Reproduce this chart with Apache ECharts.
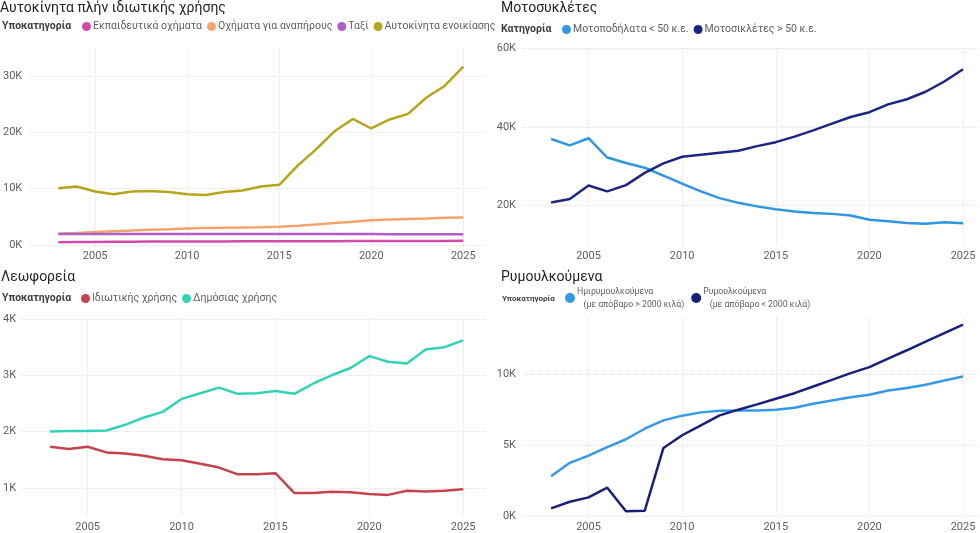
<!DOCTYPE html>
<html>
<head>
<meta charset="utf-8">
<script src="https://cdn.jsdelivr.net/npm/echarts@6/dist/echarts.min.js"></script>
<style>
  html, body { margin: 0; padding: 0; background: #fff; }
  #chart { width: 980px; height: 533px; }
</style>
</head>
<body>
<div id="chart"></div>
<script>
// years 2003..2025
var years = [2003, 2004, 2005, 2006, 2007, 2008, 2009, 2010, 2011, 2012, 2013, 2014,
  2015, 2016, 2017, 2018, 2019, 2020, 2021, 2022, 2023, 2024, 2025];

// Αυτοκίνητα πλήν ιδιωτικής χρήσης
var ekpaideftika = [500, 520, 540, 560, 580, 600, 610, 620, 630, 640, 650, 655,
  660, 665, 670, 680, 690, 700, 705, 710, 720, 730, 740];
var anapiroi = [2000, 2150, 2300, 2450, 2580, 2700, 2820, 2950, 3020, 3080, 3120, 3170,
  3250, 3400, 3650, 3900, 4150, 4380, 4520, 4630, 4720, 4820, 4900];
var taxi = [1950, 1950, 1950, 1950, 1950, 1950, 1950, 1950, 1950, 1950, 1950, 1950,
  1950, 1950, 1950, 1950, 1950, 1940, 1930, 1930, 1930, 1930, 1930];
var enoikiasis = [10100, 10400, 9500, 9000, 9500, 9600, 9400, 9000, 8900, 9400, 9700, 10400,
  10700, 14100, 17000, 20200, 22400, 20700, 22300, 23300, 26200, 28300, 31700];

// Μοτοσυκλέτες
var motopodilata = [36900, 35300, 37100, 32200, 30800, 29600, 27600, 25600, 23600, 21900, 20700, 19800,
  19100, 18500, 18100, 17900, 17500, 16400, 16000, 15600, 15400, 15800, 15500];
var motosikletes = [20800, 21700, 25100, 23600, 25200, 28300, 30700, 32400, 32900, 33400, 33900, 35100,
  36100, 37500, 39100, 40800, 42500, 43700, 45700, 47000, 48900, 51500, 54600];

// Λεωφορεία
var idiotikis = [1730, 1690, 1730, 1630, 1610, 1570, 1510, 1490, 1430, 1360, 1240, 1240,
  1260, 910, 910, 930, 920, 890, 875, 950, 935, 950, 975];
var dimosias = [2000, 2010, 2010, 2020, 2120, 2250, 2350, 2580, 2680, 2780, 2670, 2680,
  2720, 2670, 2850, 3000, 3130, 3340, 3240, 3210, 3460, 3500, 3620];

// Ρυμουλκούμενα
var imirimoulkoumena = [2800, 3740, 4250, 4840, 5400, 6140, 6730, 7060, 7290, 7410, 7430, 7430,
  7480, 7620, 7900, 8130, 8360, 8530, 8830, 9000, 9230, 9530, 9810];
var rimoulkoumena = [540, 1000, 1310, 1990, 330, 370, 4790, 5680, 6380, 7080, 7480, 7850,
  8250, 8640, 9110, 9580, 10050, 10470, 11070, 11660, 12270, 12870, 13460];

function pairs(vals) {
  return years.map(function (y, i) { return [y, vals[i]]; });
}

var font = "'Segoe UI', Roboto, 'Noto Sans', sans-serif";
var labelColor = '#605E5C';
var gridColor = '#E1E1E1';

function xAxis(idx, min, max) {
  return {
    type: 'value', gridIndex: idx, min: min, max: max, splitNumber: 5,
    axisLine: { show: false }, axisTick: { show: false },
    axisLabel: {
      color: labelColor, fontSize: 11, fontFamily: font, margin: 6,
      showMinLabel: false, showMaxLabel: false,
      formatter: function (v) { return String(v); }
    },
    splitLine: { show: true, showMinLine: false, showMaxLine: false,
      lineStyle: { color: gridColor, type: 'dotted', width: 1 } }
  };
}

function yAxis(idx, opts) {
  var ax = {
    type: 'value', gridIndex: idx,
    axisLine: { show: false }, axisTick: { show: false },
    axisLabel: {
      color: labelColor, fontSize: 11, fontFamily: font, margin: 7,
      showMinLabel: opts.showMin, showMaxLabel: opts.showMax,
      formatter: function (v) { return (v / 1000) + 'K'; }
    },
    splitLine: { show: true, showMinLine: opts.showMin, showMaxLine: opts.showMax,
      lineStyle: { color: gridColor, type: 'dotted', width: 1 } }
  };
  for (var k in opts) { if (k !== 'showMin' && k !== 'showMax') ax[k] = opts[k]; }
  return ax;
}

function line(name, vals, color, idx) {
  return {
    name: name, type: 'line', xAxisIndex: idx, yAxisIndex: idx,
    data: pairs(vals), showSymbol: false, symbol: 'none',
    lineStyle: { color: color, width: 2.5 }, itemStyle: { color: color },
    animation: false
  };
}

function heading(text, left, top) {
  return { text: text, left: left, top: top, padding: 0,
    textStyle: { fontFamily: font, fontSize: 14, fontWeight: 'normal', color: '#252423' } };
}
function legendLabel(text, left, top, size) {
  return { text: text, left: left, top: top, padding: 0,
    textStyle: { fontFamily: font, fontSize: size, fontWeight: 'bold', color: '#404040' } };
}
function legend(names, left, top) {
  return {
    data: names, left: left, top: top, icon: 'circle', itemWidth: 9, itemHeight: 9,
    itemGap: 5, padding: 0, selectedMode: false,
    textStyle: { fontFamily: font, fontSize: 10.5, color: labelColor, padding: [0, 0, 0, -3] }
  };
}

var subLines = {
  'Ημιρυμουλκούμενα': 'Ημιρυμουλκούμενα\n   (με απόβαρο > 2000 κιλά)',
  'Ρυμουλκούμενα': 'Ρυμουλκούμενα\n   (με απόβαρο < 2000 κιλά)'
};

var chart = echarts.init(document.getElementById('chart'));
chart.setOption({
  backgroundColor: '#ffffff',
  animation: false,
  title: [
    heading('Αυτοκίνητα πλήν ιδιωτικής χρήσης', 0, 1),
    heading('Μοτοσυκλέτες', 501, 1),
    heading('Λεωφορεία', 1, 270),
    heading('Ρυμουλκούμενα', 501, 270),
    legendLabel('Υποκατηγορία', 2, 21, 10.5),
    legendLabel('Κατηγορία', 501, 24, 10.5),
    legendLabel('Υποκατηγορία', 2, 293, 10.5),
    legendLabel('Υποκατηγορία', 502, 295, 8)
  ],
  legend: [
    legend(['Εκπαιδευτικά οχήματα', 'Οχήματα για αναπήρους', 'Ταξί', 'Αυτοκίνητα ενοικίασης'], 82, 21),
    legend(['Μοτοποδήλατα < 50 κ.ε.', 'Μοτοσικλέτες > 50 κ.ε.'], 562, 24),
    legend(['Ιδιωτικής χρήσης', 'Δημόσιας χρήσης'], 81, 293),
    {
      data: ['Ημιρυμουλκούμενα', 'Ρυμουλκούμενα'], left: 565, top: 285, icon: 'circle',
      itemWidth: 10, itemHeight: 10, itemGap: 7, padding: 0, selectedMode: false,
      formatter: function (n) { return subLines[n]; },
      textStyle: { fontFamily: font, fontSize: 8.7, color: labelColor, lineHeight: 13, padding: [0, 0, 0, -3] }
    }
  ],
  grid: [
    { left: 22, right: 495, top: 48, bottom: 288 },
    { left: 523, right: 2, top: 48, bottom: 288 },
    { left: 20, right: 493, top: 319, bottom: 16 },
    { left: 523, right: 2, top: 317, bottom: 17 }
  ],
  xAxis: [
    xAxis(0, 2001.42, 2026.18),
    xAxis(1, 2001.5, 2025.8),
    xAxis(2, 2001.56, 2026.27),
    xAxis(3, 2001.5, 2025.8)
  ],
  yAxis: [
    yAxis(0, { min: 0, max: 35000, interval: 10000, showMin: true, showMax: false }),
    yAxis(1, { min: 10000, max: 60000, splitNumber: 3, showMin: false, showMax: true }),
    yAxis(2, { min: 500, max: 4000, splitNumber: 4, showMin: false, showMax: true }),
    yAxis(3, { min: 0, max: 14000, interval: 5000, showMin: true, showMax: false })
  ],
  series: [
    line('Εκπαιδευτικά οχήματα', ekpaideftika, '#D14BA8', 0),
    line('Οχήματα για αναπήρους', anapiroi, '#F2A46A', 0),
    line('Ταξί', taxi, '#B05CC9', 0),
    line('Αυτοκίνητα ενοικίασης', enoikiasis, '#B5A41C', 0),
    line('Μοτοποδήλατα < 50 κ.ε.', motopodilata, '#2F96E0', 1),
    line('Μοτοσικλέτες > 50 κ.ε.', motosikletes, '#1C2580', 1),
    line('Ιδιωτικής χρήσης', idiotikis, '#C4434F', 2),
    line('Δημόσιας χρήσης', dimosias, '#33D2B8', 2),
    line('Ημιρυμουλκούμενα', imirimoulkoumena, '#3399E8', 3),
    line('Ρυμουλκούμενα', rimoulkoumena, '#17207A', 3)
  ]
});
</script>
</body>
</html>
